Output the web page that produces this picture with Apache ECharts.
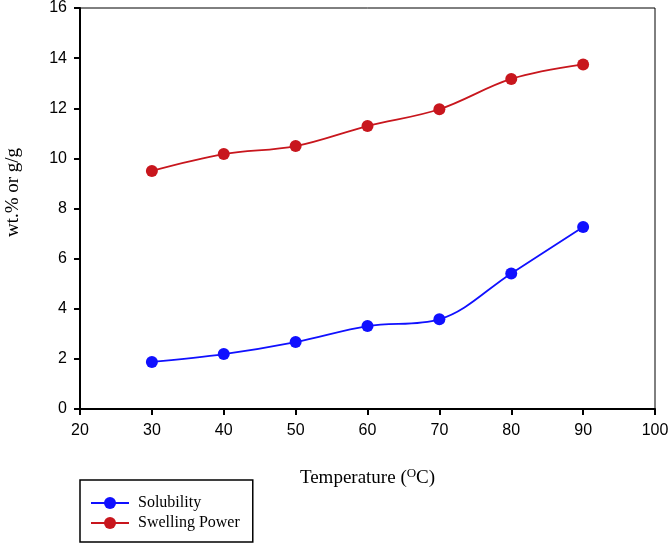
<!DOCTYPE html>
<html><head><meta charset="utf-8">
<script src="https://cdn.jsdelivr.net/npm/echarts@6/dist/echarts.min.js"></script>
<style>html,body{margin:0;padding:0;background:#fff}#c{width:669px;height:544px}</style>
</head><body><div id="c"></div>
<script>
const temperatures = [30, 40, 50, 60, 70, 80, 90];
const solubility = [1.88, 2.19, 2.67, 3.31, 3.58, 5.41, 7.26];
const swellingPower = [9.50, 10.17, 10.49, 11.29, 11.96, 13.17, 13.75];
const seriesNames = ['Solubility', 'Swelling Power'];

const chart = echarts.init(document.getElementById('c'));
const pair = (xs, ys) => xs.map((x, i) => [x, ys[i]]);
chart.setOption({
  animation: false,
  backgroundColor: '#fff',
  grid: { left: 80, right: 14, top: 8, bottom: 135, show: true, borderColor: '#000', borderWidth: 1,
    containLabel: false, outerBoundsMode: 'none' },
  xAxis: {
    type: 'value', min: 20, max: 100, interval: 10,
    name: 'Temperature ({sup|O}C)', nameLocation: 'middle', nameGap: 58,
    nameTextStyle: { fontFamily: 'Liberation Serif', fontSize: 19, color: '#000',
      rich: { sup: { fontFamily: 'Liberation Serif', fontSize: 13, verticalAlign: 'top', padding: [0,0,9,0], color: '#000' } } },
    axisLine: { lineStyle: { color: '#000', width: 2 } },
    axisTick: { show: true, length: 6, lineStyle: { color: '#000', width: 2 } },
    axisLabel: { fontFamily: 'Liberation Sans', fontSize: 16, color: '#000', margin: 14 },
    splitLine: { show: false }
  },
  yAxis: {
    type: 'value', min: 0, max: 16, interval: 2,
    name: 'wt.% or g/g', nameLocation: 'middle', nameGap: 57,
    nameTextStyle: { fontFamily: 'Liberation Serif', fontSize: 19, color: '#000', padding: [0, 0, 0, 32] },
    axisLine: { lineStyle: { color: '#000', width: 2 } },
    axisTick: { show: true, length: 6, lineStyle: { color: '#000', width: 2 } },
    axisLabel: { fontFamily: 'Liberation Sans', fontSize: 16, color: '#000', margin: 13 },
    splitLine: { show: false }
  },
  legend: {
    orient: 'vertical', left: 80, top: 480, height: 36,
    padding: [15, 13, 11, 10], itemGap: 4, itemWidth: 38, itemHeight: 15,
    borderColor: '#000', borderWidth: 1.5, backgroundColor: '#fff',
    textStyle: { fontFamily: 'Liberation Serif', fontSize: 16, color: '#000', lineHeight: 14, padding: [0,0,0,4] },
    data: seriesNames
  },
  series: [
    { name: seriesNames[0], type: 'line', smooth: 0.35, data: pair(temperatures, solubility),
      symbol: 'circle', symbolSize: 12, itemStyle: { color: '#1010ff' }, lineStyle: { color: '#1010ff', width: 1.8 } },
    { name: seriesNames[1], type: 'line', smooth: 0.35, data: pair(temperatures, swellingPower),
      symbol: 'circle', symbolSize: 12, itemStyle: { color: '#c8161d' }, lineStyle: { color: '#c8161d', width: 1.8 } }
  ]
});
</script></body></html>
